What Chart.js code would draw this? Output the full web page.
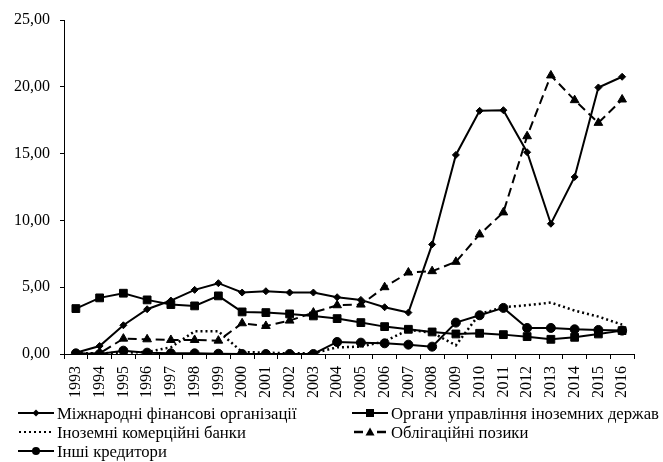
<!DOCTYPE html>
<html lang="uk">
<head>
  <meta charset="UTF-8">
  <script src="https://cdn.jsdelivr.net/npm/chart.js"></script>
  <title>Chart</title>
  <style>
    body{margin:0;background:#fff;}
    #wrap{position:relative;width:663px;height:462px;}
    #legend{position:absolute;left:0;top:0;width:663px;height:462px;font-family:"Liberation Serif",serif;font-size:16.7px;color:#000;}
    .item{position:absolute;height:19px;line-height:19px;white-space:nowrap;display:flex;align-items:center;}
    .item svg{margin-right:3px;}
  </style>
</head>
<body>
<div id="wrap">
  <canvas id="myChart" width="663" height="462"></canvas>
  <div id="legend"></div>
</div>
<script>
  // дані
  const years = ['1993','1994','1995','1996','1997','1998','1999','2000','2001','2002','2003','2004',
                 '2005','2006','2007','2008','2009','2010','2011','2012','2013','2014','2015','2016'];
  const intlOrgs = [0.1, 0.6, 2.15, 3.35, 4.0, 4.8, 5.3, 4.6, 4.7, 4.6, 4.6, 4.25,
                    4.05, 3.5, 3.1, 8.2, 14.9, 18.2, 18.25, 15.1, 9.75, 13.25, 19.95, 20.75];
  const foreignGov = [3.4, 4.2, 4.55, 4.05, 3.7, 3.6, 4.35, 3.15, 3.1, 3.0, 2.85, 2.65,
                      2.35, 2.05, 1.85, 1.65, 1.5, 1.55, 1.45, 1.3, 1.1, 1.25, 1.5, 1.75];
  const foreignBanks = [0.05, 0.05, 0.1, 0.15, 0.5, 1.7, 1.7, 0.15, 0.1, 0.05, 0.05, 0.5,
                        0.55, 0.95, 1.8, 1.6, 0.65, 3.0, 3.5, 3.65, 3.85, 3.25, 2.8, 2.2];
  const bonds = [0, 0.05, 1.15, 1.1, 1.05, 1.05, 1.0, 2.3, 2.1, 2.5, 3.1, 3.65,
                 3.7, 5.0, 6.1, 6.2, 6.9, 8.95, 10.6, 16.3, 20.85, 19.0, 17.3, 19.05];
  const otherCreditors = [0.05, 0, 0.25, 0.1, 0.05, 0.05, 0.02, 0, 0, 0, 0, 0.9,
                          0.85, 0.8, 0.7, 0.55, 2.35, 2.9, 3.45, 1.95, 1.95, 1.85, 1.8, 1.75];
  const yMin = 0, yMax = 25, yStep = 5;

  const seriesNames = ['Міжнародні фінансові організації', 'Органи управління іноземних держав',
                       'Іноземні комерційні банки', 'Облігаційні позики', 'Інші кредитори'];

  const font = {family: 'Liberation Serif', size: 16};

  function line(label, data, extra){
    return Object.assign({
      label: label, data: data,
      borderColor: '#000', backgroundColor: '#000',
      pointBackgroundColor: '#000', pointBorderColor: '#000',
      borderWidth: 2, pointBorderWidth: 1, tension: 0, fill: false
    }, extra);
  }

  new Chart(document.getElementById('myChart'), {
    type: 'line',
    data: {
      labels: years,
      datasets: [
        line(seriesNames[0], intlOrgs, {pointStyle: 'rectRot', pointRadius: 3.5}),
        line(seriesNames[1], foreignGov, {pointStyle: 'rect', pointRadius: 5.5}),
        line(seriesNames[2], foreignBanks, {pointRadius: 0, borderDash: [2, 3], borderWidth: 2.5}),
        line(seriesNames[3], bonds, {pointStyle: 'triangle', pointRadius: 5, borderDash: [9, 5]}),
        line(seriesNames[4], otherCreditors, {pointStyle: 'circle', pointRadius: 4.5})
      ]
    },
    options: {
      responsive: false,
      animation: false,
      layout: {padding: {top: 20, right: 29, left: 0, bottom: 0}},
      plugins: {legend: {display: false}, tooltip: {enabled: false}},
      scales: {
        x: {
          offset: true,
          grid: {drawOnChartArea: false, color: '#000', tickLength: 5, offset: true},
          border: {color: '#000', width: 1},
          ticks: {color: '#000', font: font, maxRotation: 90, minRotation: 90, autoSkip: false, padding: 7},
          afterFit: function(s){ s.height = 108; }
        },
        y: {
          min: yMin, max: yMax,
          grid: {drawOnChartArea: false, color: '#000', tickLength: 4},
          border: {color: '#000', width: 1},
          ticks: {
            stepSize: yStep, color: '#000', font: font, padding: 10,
            callback: function(v){ return v.toFixed(2).replace('.', ','); }
          },
          afterFit: function(s){ s.width = 64; }
        }
      }
    }
  });

  // легенда
  const symbols = [
    '<line x1="0" y1="6" x2="36" y2="6" stroke="#000" stroke-width="2"/><polygon points="18,2.5 21.5,6 18,9.5 14.5,6" fill="#000"/>',
    '<line x1="0" y1="6" x2="36" y2="6" stroke="#000" stroke-width="2"/><rect x="14" y="2" width="8" height="8" fill="#000"/>',
    '<line x1="1" y1="6" x2="36" y2="6" stroke="#000" stroke-width="2" stroke-dasharray="2,3"/>',
    '<line x1="2" y1="6" x2="11" y2="6" stroke="#000" stroke-width="2.5"/><line x1="25" y1="6" x2="34" y2="6" stroke="#000" stroke-width="2.5"/><polygon points="18,1.5 22.5,9.5 13.5,9.5" fill="#000"/>',
    '<line x1="0" y1="6" x2="36" y2="6" stroke="#000" stroke-width="2"/><circle cx="18" cy="6" r="4" fill="#000"/>'
  ];
  const spots = [[18, 413], [352, 413], [18, 432], [352, 432], [18, 451]];
  const legend = document.getElementById('legend');
  seriesNames.forEach(function(name, i){
    const d = document.createElement('div');
    d.className = 'item';
    d.style.left = spots[i][0] + 'px';
    d.style.top = (spots[i][1] - 9.5) + 'px';
    d.innerHTML = '<svg width="36" height="12">' + symbols[i] + '</svg><span>' + name + '</span>';
    legend.appendChild(d);
  });
</script>
</body>
</html>
